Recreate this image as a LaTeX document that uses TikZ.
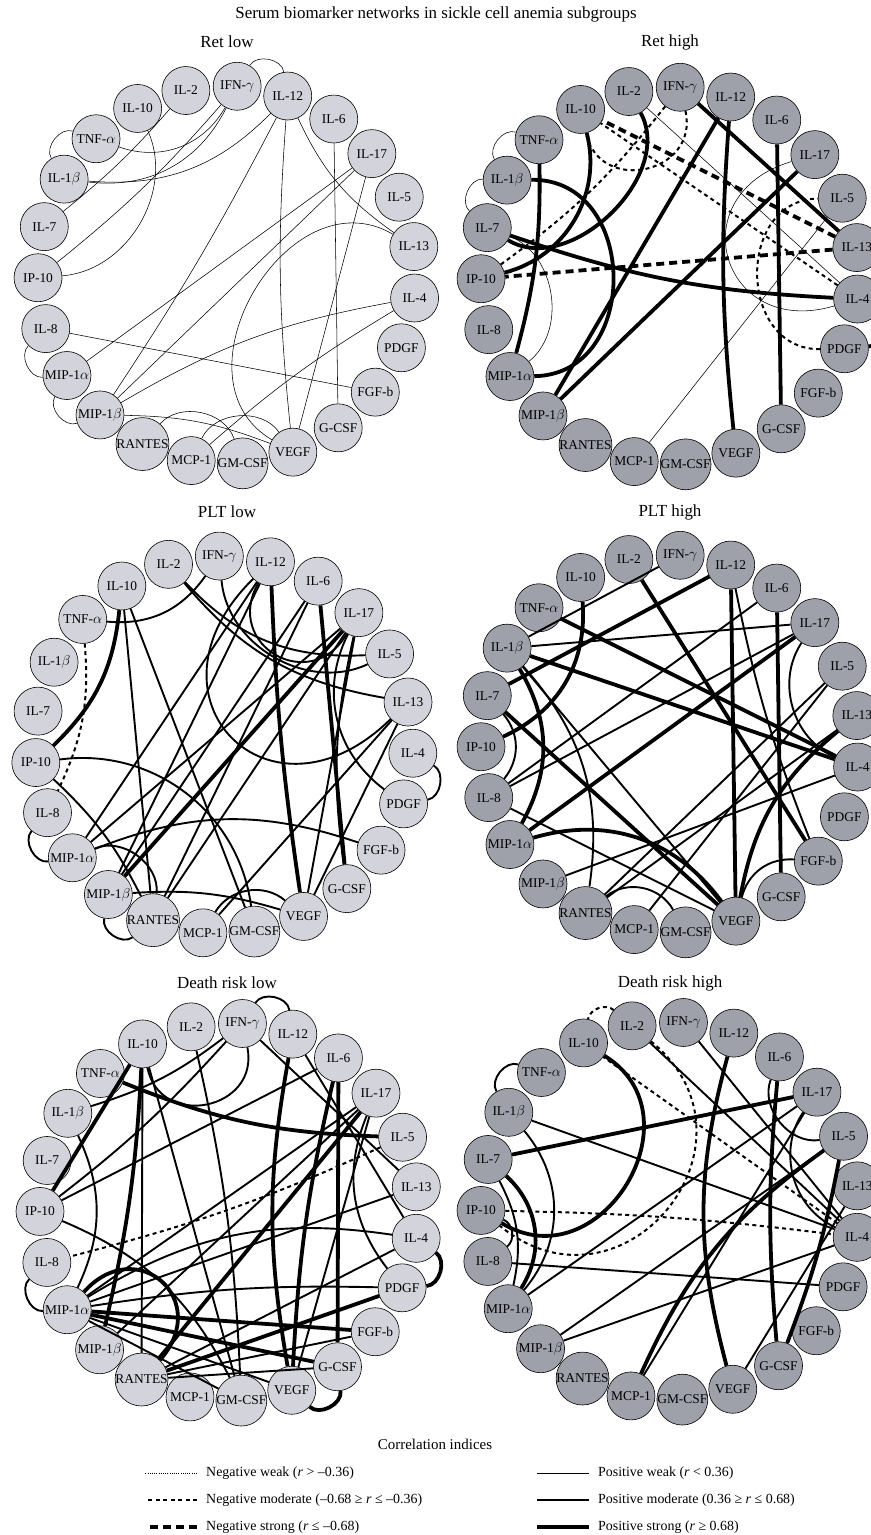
\documentclass[tikz,border=0pt]{standalone}
\usepackage{fontspec}
\setmainfont{Liberation Serif}
\definecolor{lowfill}{RGB}{211,212,219}
\definecolor{highfill}{RGB}{158,161,170}
\tikzset{
  bio/.style={circle, draw=black, line width=0.6bp, minimum size=48bp, inner sep=0pt,
    font=\fontsize{13.5}{13.5}\selectfont},
  pw/.style={line width=0.55bp},
  pm/.style={line width=1.9bp},
  ps/.style={line width=3.8bp},
  nw/.style={line width=0.7bp, dash pattern=on 1bp off 1.2bp},
  nm/.style={line width=2bp, dash pattern=on 4bp off 3.5bp},
  ns/.style={line width=3.8bp, dash pattern=on 8bp off 5bp},
  paneltitle/.style={font=\fontsize{17}{17}\selectfont},
  legtext/.style={font=\fontsize{14}{14}\selectfont, anchor=west, inner sep=0pt},
}
% 23 markers on a ring: prefix, centre x, centre y (pixels down), start angle, fill
\newcommand{\bionet}[5]{%
  \foreach \k/\nm/\lab in {0/il4/IL-4, 1/il13/IL-13, 2/il5/IL-5, 3/il17/IL-17, 4/il6/IL-6,
      5/il12/IL-12, 6/ifng/{IFN-$\gamma$}, 7/il2/IL-2, 8/il10/IL-10, 9/tnfa/{TNF-$\alpha$},
      10/il1b/{IL-1$\beta$}, 11/il7/IL-7, 12/ip10/IP-10, 13/il8/IL-8, 14/mip1a/{MIP-1$\alpha$},
      15/mip1b/{MIP-1$\beta$}, 16/rantes/RANTES, 17/mcp1/MCP-1, 18/gmcsf/GM-CSF, 19/vegf/VEGF,
      20/gcsf/G-CSF, 21/fgfb/FGF-b, 22/pdgf/PDGF}{
    \node[bio, fill=#5] (#1-\nm) at ({#2+189*cos(#4+\k*360/23)}, {-#3+189*sin(#4+\k*360/23)}) {\lab};
  }%
}
% correlations of one ring: style/from/to/bend (positive bend = towards the centre)
\newcommand{\bioedges}[2]{%
  \foreach \s/\a/\b/\c in {#2}{
    \draw[\s] (#1-\a) to[bend left=\c] (#1-\b);
  }%
}

\begin{document}
\begin{tikzpicture}[x=1bp, y=1bp]
  \useasboundingbox (0,0) rectangle (870,-1535);

  % titles
  \node[paneltitle] (maintitle) at (436,-14) {Serum biomarker networks in sickle cell anemia subgroups};
  \node[paneltitle] (t-rl) at (227,-42) {Ret low};
  \node[paneltitle] (t-rh) at (670,-42) {Ret high};
  \node[paneltitle] (t-pl) at (227,-512) {PLT low};
  \node[paneltitle] (t-ph) at (670,-512) {PLT high};
  \node[paneltitle] (t-dl) at (227,-983) {Death risk low};
  \node[paneltitle] (t-dh) at (670,-983) {Death risk high};

  % the six rings
  \bionet{rl}{227}{275}{-7}{lowfill}
  \bionet{rh}{670}{276}{-7}{highfill}
  \bionet{pl}{224}{745}{-2.5}{lowfill}
  \bionet{ph}{670}{744}{-7}{highfill}
  \bionet{dl}{229}{1212}{-8}{lowfill}
  \bionet{dh}{670}{1211}{-8}{highfill}

  % Ret low
  \bioedges{rl}{pw/il12/ifng/-70, pw/tnfa/il1b/-70, pw/il8/mip1a/-70, pw/mip1a/mip1b/-70,
    pw/il2/il7/5, pw/ifng/ip10/5, pw/ifng/tnfa/40, pw/ifng/il1b/35, pw/il12/il1b/25,
    pw/il10/ip10/55, pw/il12/mip1b/3, pw/vegf/il12/5, pw/il13/il12/15, pw/gcsf/il6/0,
    pw/il17/mip1a/0, pw/vegf/il17/0, pw/mip1b/il17/0, pw/mip1b/il4/10, pw/mcp1/il4/5,
    pw/il8/fgfb/0, pw/mip1b/vegf/10, pw/rantes/gmcsf/60, pw/mcp1/vegf/60}
  \draw[pw] (rl-vegf) to[bend left=90, looseness=1.3] (rl-il13);

  % Ret high
  \bioedges{rh}{pw/tnfa/il1b/-70, pw/il1b/il7/-70, ns/il13/il10/0, nm/il4/il10/0,
    pw/il4/il2/0, ps/il2/il7/75, ps/il10/ip10/45, ps/tnfa/mip1a/8, pw/il7/mip1a/60,
    nm/ifng/ip10/8, ns/il13/ip10/0, ps/il4/il7/8, ps/il12/mip1b/0, ps/mip1b/il17/0,
    ps/vegf/il12/5, ps/il13/ifng/0, ps/gcsf/il6/0, pw/mcp1/il5/0, ps/pdgf/il4/-70}
  \draw[ps] (rh-il1b) to[bend left=90, looseness=1.4] (rh-mip1a);
  \draw[nm] (rh-ifng) to[bend left=90, looseness=1.6] (rh-il10);
  \draw[pw] (rh-il4) to[bend left=90, looseness=2] (rh-il17);
  \draw[nm] (rh-pdgf) to[bend left=90, looseness=1.4] (rh-il5);

  % PLT low
  \bioedges{pl}{ps/il10/ip10/20, nm/tnfa/il8/15, pm/ifng/tnfa/30, pm/il10/rantes/0,
    pm/il10/gmcsf/0, pm/il5/il2/25, pm/il13/il2/20, pm/il5/ifng/55, pm/il12/mip1a/0,
    pm/il12/mip1b/0, ps/vegf/il12/3, ps/gcsf/il6/0, pm/il6/mip1b/0, pm/rantes/il6/0,
    ps/mip1b/il17/0, pm/il17/mip1a/0, pm/rantes/il17/0, pm/vegf/il17/0, pm/gcsf/il17/10,
    pm/pdgf/il17/40, pm/pdgf/il4/-70, pm/mcp1/il13/0, pm/vegf/il13/0, pm/ip10/gmcsf/45,
    pm/ip10/rantes/10, pm/il8/mip1a/-70, pm/mip1b/rantes/-70, pm/mip1a/fgfb/20,
    pm/mip1a/rantes/60, pm/mip1b/vegf/10, pm/mcp1/vegf/50}
  \draw[pm] (pl-il13) to[bend left=90, looseness=2.2] (pl-il12);
  \draw[pm] (pl-il17) to[bend left=90, looseness=1.8] (pl-il12);

  % PLT high
  \bioedges{ph}{ps/fgfb/il2/0, pm/ifng/il1b/0, ps/il10/ip10/35, ps/il4/tnfa/0,
    ps/il12/il7/0, ps/vegf/il12/0, pm/fgfb/il12/5, pm/il6/il8/0, pm/il17/il8/0,
    ps/gcsf/il6/0, pm/il17/il1b/0, ps/il17/mip1a/0, pm/il4/il17/50, pm/rantes/il5/0,
    ps/vegf/il13/20, pm/mip1b/il4/0, ps/il4/il1b/0, ps/il1b/mip1a/30, pm/il1b/rantes/25,
    pm/il1b/vegf/0, ps/il7/vegf/0, pm/il7/il8/40, pm/il8/vegf/0, ps/mip1a/vegf/35,
    pm/rantes/gmcsf/50, pm/rantes/il13/0, pm/mcp1/il5/0, pm/vegf/fgfb/40}

  % Death risk low
  \bioedges{dl}{pm/il12/ifng/-70, pm/ifng/il1b/10, pm/ifng/ip10/5, pm/il13/ifng/0,
    ps/il10/ip10/0, ps/il10/mip1b/5, pm/il10/rantes/0, pm/il10/gmcsf/0, pm/il2/gmcsf/5,
    ps/vegf/il12/10, pm/il4/il12/0, pm/il6/ip10/0, ps/vegf/il6/5, ps/gcsf/il6/0,
    pm/il17/mip1a/0, ps/rantes/il17/0, pm/mip1b/il17/0, pm/vegf/il17/0, pm/pdgf/il17/30,
    ps/il5/tnfa/10, nm/il5/il8/5, pm/il1b/mip1a/25, pm/ip10/gmcsf/20, pm/il8/mip1a/-70,
    pm/mip1a/il4/20, pm/mip1a/pdgf/5, ps/mip1a/fgfb/0, ps/mip1a/gcsf/0, pm/mip1a/vegf/0,
    pm/mip1a/gmcsf/0, pm/mip1a/il13/0, ps/rantes/pdgf/0, pm/rantes/gcsf/0,
    pm/rantes/fgfb/0, pm/rantes/il4/0, ps/vegf/gcsf/-70, ps/pdgf/il4/-70}
  \draw[pm] (dl-ifng) to[bend left=90, looseness=1.6] (dl-il10);
  \draw[ps] (dl-mip1a) to[bend left=90, looseness=2] (dl-rantes);

  % Death risk high
  \bioedges{dh}{nm/il2/il10/-60, pm/tnfa/il1b/-70, nm/il4/il10/0, nm/ip10/il4/3,
    ps/il17/il7/0, pm/il4/il1b/0, pm/il1b/mip1a/40, ps/il7/mip1a/40, pm/il7/mip1a/20,
    pm/ip10/il8/60, pm/il8/pdgf/0, pm/il17/mip1a/0, pm/mip1b/il5/0, pm/mip1b/il4/0,
    ps/mcp1/il5/15, pm/mcp1/il17/0, ps/vegf/il12/15, pm/il4/ifng/0, pm/il4/il2/0,
    ps/gcsf/il6/5, pm/il5/il6/60, ps/gcsf/il5/-5, pm/vegf/il13/0, pm/il4/il17/50}
  \draw[ps] (dh-il10) to[bend left=90, looseness=1.5] (dh-ip10);
  \draw[nm] (dh-il2) to[bend left=90, looseness=1.7] (dh-ip10);

  % legend
  \node[font=\fontsize{15}{15}\selectfont] (legtitle) at (435,-1444) {Correlation indices};
  \foreach \s/\x/\y/\txt in {
      nw/206/1473/{Negative weak (\textit{r} > –0.36)},
      nm/206/1500/{Negative moderate (–0.68 ≥ \textit{r} ≤ –0.36)},
      ns/206/1527/{Negative strong (\textit{r} ≤ –0.68)},
      pw/598/1473/{Positive weak (\textit{r} < 0.36)},
      pm/598/1500/{Positive moderate (0.36 ≥ \textit{r} ≤ 0.68)},
      ps/598/1527/{Positive strong (\textit{r} ≥ 0.68)}}{
    \node[legtext] (leg-\s) at (\x,-\y) {\txt};
    \draw[\s] ([xshift=-9]leg-\s.west) -- ++(-52,0);
  }
\end{tikzpicture}
\end{document}
